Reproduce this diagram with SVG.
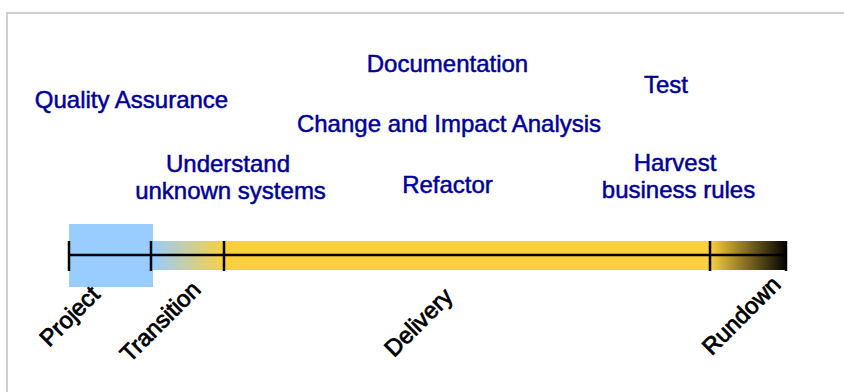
<svg xmlns="http://www.w3.org/2000/svg" width="844" height="392" viewBox="0 0 844 392">
<defs>
<linearGradient id="gBlueYellow" x1="153" y1="0" x2="224" y2="0" gradientUnits="userSpaceOnUse">
<stop offset="0" stop-color="#99ccff"/>
<stop offset="1" stop-color="#f9d040"/>
</linearGradient>
<linearGradient id="gYellowBlack" x1="710" y1="0" x2="787" y2="0" gradientUnits="userSpaceOnUse">
<stop offset="0" stop-color="#f9d040"/>
<stop offset="1" stop-color="#000000"/>
</linearGradient>
<style>
.act { font-family: "Liberation Sans", Arial, sans-serif; font-size: 24px; fill: #000099; stroke: #000099; stroke-width: 0.5; text-anchor: middle; }
.phase { font-family: "Liberation Sans", Arial, sans-serif; font-size: 23.5px; fill: #000000; stroke: #000000; stroke-width: 0.8; text-anchor: end; }
.tick { stroke: #000; stroke-width: 2.5; }
</style>
</defs>
<rect x="0" y="0" width="844" height="392" fill="#ffffff"/>
<rect x="7" y="13" width="850" height="400" fill="none" stroke="#c0c0c0" stroke-width="1.5"/>
<g id="timeline">
<rect x="153" y="241" width="71" height="29" fill="url(#gBlueYellow)"/>
<rect x="224" y="241" width="486" height="29" fill="#f9d040"/>
<rect x="710" y="241" width="77" height="29" fill="url(#gYellowBlack)"/>
<rect x="69" y="224" width="84" height="63" fill="#99ccff"/>
</g>
<g id="connectors">
<line class="tick" x1="69" y1="255" x2="787" y2="255"/>
<line class="tick" x1="69" y1="241" x2="69" y2="271"/>
<line class="tick" x1="151" y1="241" x2="151" y2="271"/>
<line class="tick" x1="224" y1="241" x2="224" y2="271"/>
<line class="tick" x1="710" y1="241" x2="710" y2="271"/>
<line class="tick" x1="786" y1="241" x2="786" y2="271"/>
</g>
<g id="activities">
<text class="act" x="447.5" y="72">Documentation</text>
<text class="act" x="131.5" y="108">Quality Assurance</text>
<text class="act" x="666" y="93">Test</text>
<text class="act" x="449" y="132">Change and Impact Analysis</text>
<text class="act" x="228" y="171.5">Understand</text>
<text class="act" x="230.5" y="199">unknown systems</text>
<text class="act" x="447.5" y="193">Refactor</text>
<text class="act" x="675" y="171">Harvest</text>
<text class="act" x="678.5" y="198">business rules</text>
</g>
<g id="phases">
<text class="phase" transform="translate(101,296) rotate(-45)">Project</text>
<text class="phase" transform="translate(202,291) rotate(-45)">Transition</text>
<text class="phase" transform="translate(454,298) rotate(-45)">Delivery</text>
<text class="phase" transform="translate(782,286) rotate(-45)">Rundown</text>
</g>
</svg>
